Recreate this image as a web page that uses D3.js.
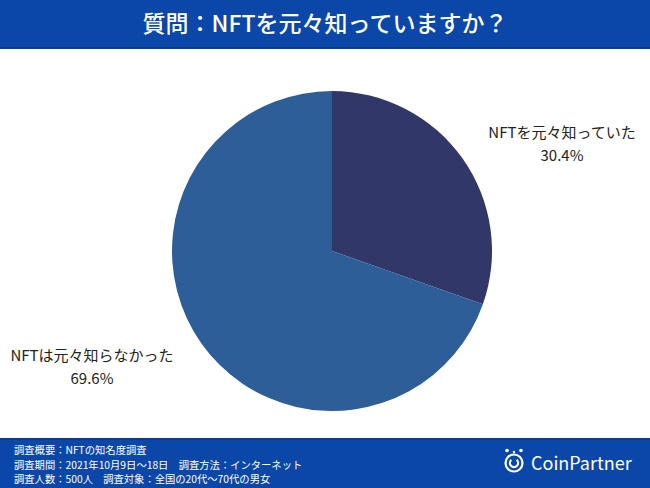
<!DOCTYPE html>
<html><head><meta charset="utf-8">
<script src="https://cdn.jsdelivr.net/npm/d3@7"></script>
<style>body{margin:0;background:#fff}svg{display:block}text{font-family:"Noto Sans CJK JP","Noto Sans",sans-serif}</style>
</head><body>
<script>
const categories = ["NFTを元々知っていた", "NFTは元々知らなかった"];
const values = [30.4, 69.6];
const colors = ["#323769", "#2e5e98"];
const title = "質問：NFTを元々知っていますか？";
const footerLines = ["調査概要：NFTの知名度調査", "調査期間：2021年10月9日〜18日　調査方法：インターネット", "調査人数：500人　調査対象：全国の20代〜70代の男女"];

const W = 650, H = 488;
const svg = d3.select("body").append("svg").attr("width", W).attr("height", H);
svg.append("rect").attr("width", W).attr("height", 47).attr("fill", "#0a47a8");
svg.append("rect").attr("y", 47).attr("width", W).attr("height", 2).attr("fill", "#0a3d8f");
svg.append("text").attr("x", W/2).attr("y", 32).attr("text-anchor", "middle")
  .attr("fill", "#fff").attr("font-size", 23).attr("font-weight", 500).text(title);

const cx = 332, cy = 251, r = 160;
const pie = d3.pie().sort(null).value(d => d)(values);
const arc = d3.arc().innerRadius(0).outerRadius(r);
const g = svg.append("g").attr("transform", `translate(${cx},${cy})`);
g.selectAll("path").data(pie).join("path").attr("d", arc).attr("fill", (d, i) => colors[i]);

const labelPos = [[562, 138], [92, 361]];
values.forEach((v, i) => {
  const t = svg.append("text").attr("text-anchor", "middle").attr("fill", "#222").attr("font-size", 15);
  t.append("tspan").attr("x", labelPos[i][0]).attr("y", labelPos[i][1]).text(categories[i]);
  t.append("tspan").attr("x", labelPos[i][0]).attr("y", labelPos[i][1] + 23).text(v.toFixed(1) + "%");
});

svg.append("rect").attr("y", 439).attr("width", W).attr("height", H - 439).attr("fill", "#0a47a8");
svg.append("rect").attr("y", 438).attr("width", W).attr("height", 2).attr("fill", "#0a3d8f");
footerLines.forEach((s, i) => {
  svg.append("text").attr("x", 14).attr("y", 454 + i * 14.5).attr("fill", "#fff").attr("font-size", 10.3).text(s);
});
// logo
const lg = svg.append("g").attr("transform", "translate(514,463)");
lg.append("circle").attr("r", 8.5).attr("fill", "none").attr("stroke", "#fff").attr("stroke-width", 2.2);
lg.append("path").attr("d", d3.arc().innerRadius(3).outerRadius(5.2).startAngle(0.7).endAngle(2*Math.PI-0.7)()).attr("fill", "#fff");
lg.append("circle").attr("cx", -7).attr("cy", -12.5).attr("r", 1.8).attr("fill", "#fff");
lg.append("circle").attr("cx", 7).attr("cy", -12.5).attr("r", 1.8).attr("fill", "#fff");
lg.append("circle").attr("cx", 0).attr("cy", -11).attr("r", 1.2).attr("fill", "#fff");
svg.append("text").attr("x", 531).attr("y", 470).attr("fill", "#fff").attr("font-size", 18)
  .attr("font-family", "Inter, 'Noto Sans', sans-serif").text("CoinPartner");
</script>
</body></html>
